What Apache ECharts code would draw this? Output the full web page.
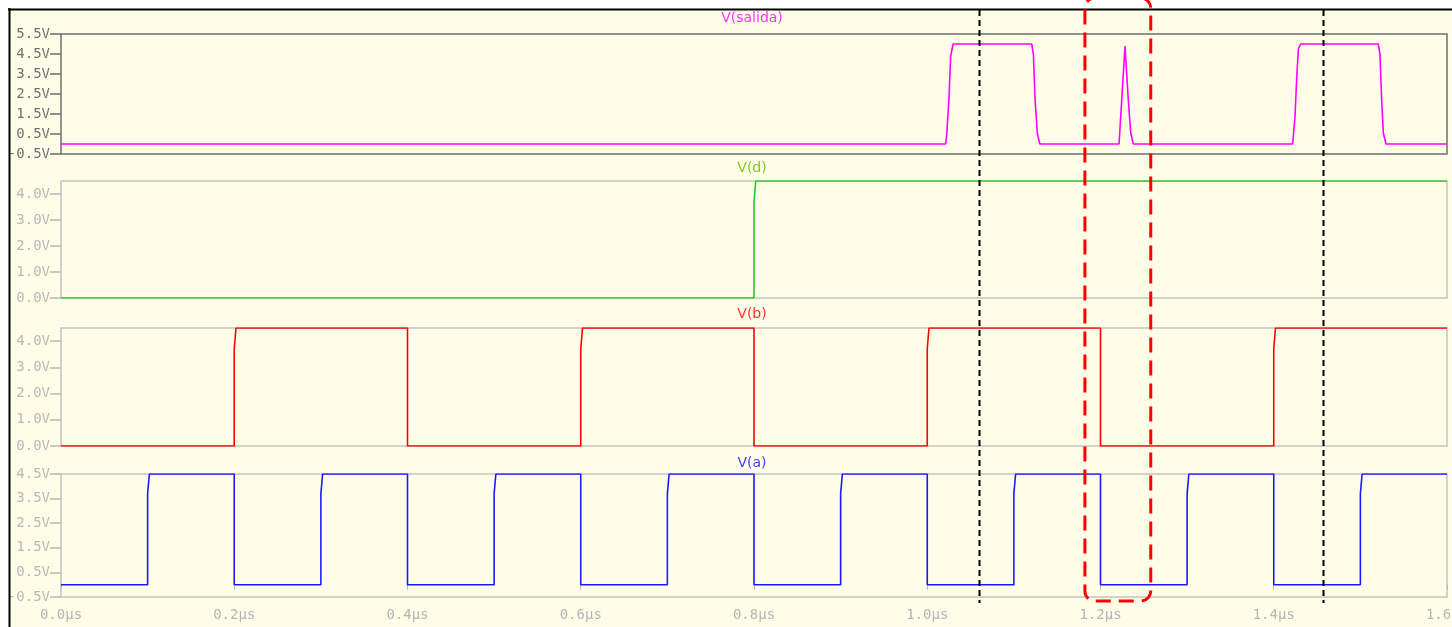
<!DOCTYPE html>
<html>
<head>
<meta charset="utf-8">
<script src="https://cdn.jsdelivr.net/npm/echarts@6/dist/echarts.min.js"></script>
<style>
  html, body { margin: 0; padding: 0; background: #ffffff; }
  #chart { width: 1452px; height: 627px; }
</style>
</head>
<body>
<div id="chart"></div>
<script>
// Transient waveforms (time in µs, voltage in V)
const salidaWave = [
  [0, 0], [1.0213, 0], [1.0225, 0.5], [1.025, 2.2], [1.027, 4.4], [1.030, 5],
  [1.1206, 5], [1.1225, 4.5], [1.1245, 2.2], [1.1272, 0.5], [1.130, 0],
  [1.2214, 0], [1.2245, 2.2], [1.2283, 4.9], [1.2302, 5.0], [1.2321, 2.2], [1.2349, 0.55], [1.2379, 0],
  [1.4218, 0], [1.4245, 1.35], [1.4265, 3.3], [1.4284, 4.75], [1.4311, 5],
  [1.5207, 5], [1.5226, 4.5], [1.5246, 2.2], [1.5265, 0.55], [1.5296, 0], [1.6, 0]
];
const dWave = [
  [0, 0], [0.8, 0], [0.8, 3.7], [0.802, 3.7], [0.802, 4.5], [1.6, 4.5]
];
const bWave = [
  [0, 0], [0.2, 0], [0.2, 3.7], [0.202, 3.7], [0.202, 4.5], [0.4, 4.5], [0.4, 0],
  [0.6, 0], [0.6, 3.7], [0.602, 3.7], [0.602, 4.5], [0.8, 4.5], [0.8, 0],
  [1.0, 0], [1.0, 3.7], [1.002, 3.7], [1.002, 4.5], [1.2, 4.5], [1.2, 0],
  [1.4, 0], [1.4, 3.7], [1.402, 3.7], [1.402, 4.5], [1.6, 4.5]
];
const aWave = [
  [0, 0], [0.1, 0], [0.1, 3.7], [0.102, 3.7], [0.102, 4.5], [0.2, 4.5], [0.2, 0],
  [0.3, 0], [0.3, 3.7], [0.302, 3.7], [0.302, 4.5], [0.4, 4.5], [0.4, 0],
  [0.5, 0], [0.5, 3.7], [0.502, 3.7], [0.502, 4.5], [0.6, 4.5], [0.6, 0],
  [0.7, 0], [0.7, 3.7], [0.702, 3.7], [0.702, 4.5], [0.8, 4.5], [0.8, 0],
  [0.9, 0], [0.9, 3.7], [0.902, 3.7], [0.902, 4.5], [1.0, 4.5], [1.0, 0],
  [1.1, 0], [1.1, 3.7], [1.102, 3.7], [1.102, 4.5], [1.2, 4.5], [1.2, 0],
  [1.3, 0], [1.3, 3.7], [1.302, 3.7], [1.302, 4.5], [1.4, 4.5], [1.4, 0],
  [1.5, 0], [1.5, 3.7], [1.502, 3.7], [1.502, 4.5], [1.6, 4.5]
];

// Trace names
const traceNames = ['V(salida)', 'V(d)', 'V(b)', 'V(a)'];

// Vertical scale tick values per pane
const salidaTicks = [-0.5, 0.5, 1.5, 2.5, 3.5, 4.5, 5.5];
const dTicks = [0, 1, 2, 3, 4];
const bTicks = [0, 1, 2, 3, 4];
const aTicks = [-0.5, 0.5, 1.5, 2.5, 3.5, 4.5];

// Time axis
const timeMin = 0, timeMax = 1.6, timeStep = 0.2;

// Cursor positions and the highlighted window (µs)
const cursorTimes = [1.06, 1.457];
const highlightSpan = [1.182, 1.258];

const BG = '#fffde8';
const MONO = "'DejaVu Sans Mono', monospace";
const SANS = "'DejaVu Sans', sans-serif";

const panes = [
  { data: salidaWave, ticks: salidaTicks, min: -0.5, max: 5.5, top: 34, height: 120,
    color: '#ff00ff', titleColor: '#ff33ff', frame: '#6e6e6e', label: '#707070', titleY: 18 },
  { data: dWave, ticks: dTicks, min: 0, max: 4.5, top: 181, height: 117,
    color: '#22cc22', titleColor: '#7ccc18', frame: '#c4c4c4', label: '#b8b8b8', titleY: 168 },
  { data: bWave, ticks: bTicks, min: 0, max: 4.5, top: 328, height: 118,
    color: '#ff0000', titleColor: '#ff3030', frame: '#c4c4c4', label: '#b8b8b8', titleY: 314 },
  { data: aWave, ticks: aTicks, min: -0.5, max: 4.5, top: 474, height: 123,
    color: '#1a1aff', titleColor: '#4040ff', frame: '#c4c4c4', label: '#b8b8b8', titleY: 463 }
];

const chart = echarts.init(document.getElementById('chart'), null, { renderer: 'canvas' });

const option = {
  backgroundColor: BG,
  animation: false,
  grid: panes.map(p => ({
    left: 61, right: 5, top: p.top, height: p.height,
    containLabel: false, outerBoundsMode: 'none',
    show: true, backgroundColor: 'transparent',
    borderColor: p.frame, borderWidth: 1.5
  })),
  xAxis: panes.map((p, i) => ({
    type: 'value', gridIndex: i, min: timeMin, max: timeMax, interval: timeStep,
    axisLine: { show: false },
    splitLine: { show: false },
    axisTick: { show: i === 3, length: 5, lineStyle: { color: '#b8b8b8', width: 1 } },
    axisLabel: {
      show: i === 3, margin: 11, color: '#b4b4b4',
      fontFamily: MONO, fontSize: 14,
      formatter: v => v.toFixed(1) + 'µs'
    }
  })),
  yAxis: panes.map((p, i) => ({
    type: 'value', gridIndex: i, min: p.min, max: p.max,
    axisLine: { show: false, onZero: false },
    splitLine: { show: false },
    axisTick: { show: true, length: 11, customValues: p.ticks,
      lineStyle: { color: i === 0 ? '#6e6e6e' : '#b8b8b8', width: 1.5 } },
    axisLabel: {
      margin: 11, color: p.label, fontFamily: MONO, fontSize: 14,
      customValues: p.ticks,
      formatter: v => v.toFixed(1) + 'V'
    }
  })),
  series: panes.map((p, i) => ({
    name: traceNames[i], type: 'line', xAxisIndex: i, yAxisIndex: i,
    data: p.data, showSymbol: false, symbol: 'none', smooth: false,
    lineStyle: { color: p.color, width: 1.6 }, clip: true, z: 3
  }))
};

chart.setOption(option);

// Overlays: outer frame, pane titles, cursors and highlight window
const px = t => chart.convertToPixel({ xAxisIndex: 3 }, t);
const graphics = [];

graphics.push(
  { type: 'rect', shape: { x: 0, y: 0, width: 1452, height: 8.5 }, style: { fill: '#ffffff' }, z: 50, silent: true },
  { type: 'rect', shape: { x: 0, y: 0, width: 8.5, height: 627 }, style: { fill: '#ffffff' }, z: 50, silent: true },
  { type: 'line', shape: { x1: 8, y1: 9.5, x2: 1452, y2: 9.5 }, style: { stroke: '#000000', lineWidth: 2 }, z: 51, silent: true },
  { type: 'line', shape: { x1: 9.5, y1: 8, x2: 9.5, y2: 627 }, style: { stroke: '#000000', lineWidth: 2 }, z: 51, silent: true }
);

panes.forEach((p, i) => {
  graphics.push({
    type: 'text', z: 60, silent: true,
    style: {
      text: traceNames[i], x: 752, y: p.titleY,
      textAlign: 'center', textVerticalAlign: 'middle',
      fill: p.titleColor, font: '14px ' + SANS
    }
  });
});

cursorTimes.forEach(t => {
  const x = Math.round(px(t)) + 0.5;
  graphics.push({
    type: 'line', z: 70, silent: true,
    shape: { x1: x, y1: 10, x2: x, y2: 603 },
    style: { stroke: '#000000', lineWidth: 2, lineDash: [6, 4] }
  });
});

const hx0 = px(highlightSpan[0]);
const hx1 = px(highlightSpan[1]);
graphics.push({
  type: 'rect', z: 80, silent: true,
  shape: { x: hx0, y: -2, width: hx1 - hx0, height: 603, r: 10 },
  style: { fill: 'none', stroke: '#ff0000', lineWidth: 3, lineDash: [15, 8] }
});

chart.setOption({ graphic: graphics });
</script>
</body>
</html>
